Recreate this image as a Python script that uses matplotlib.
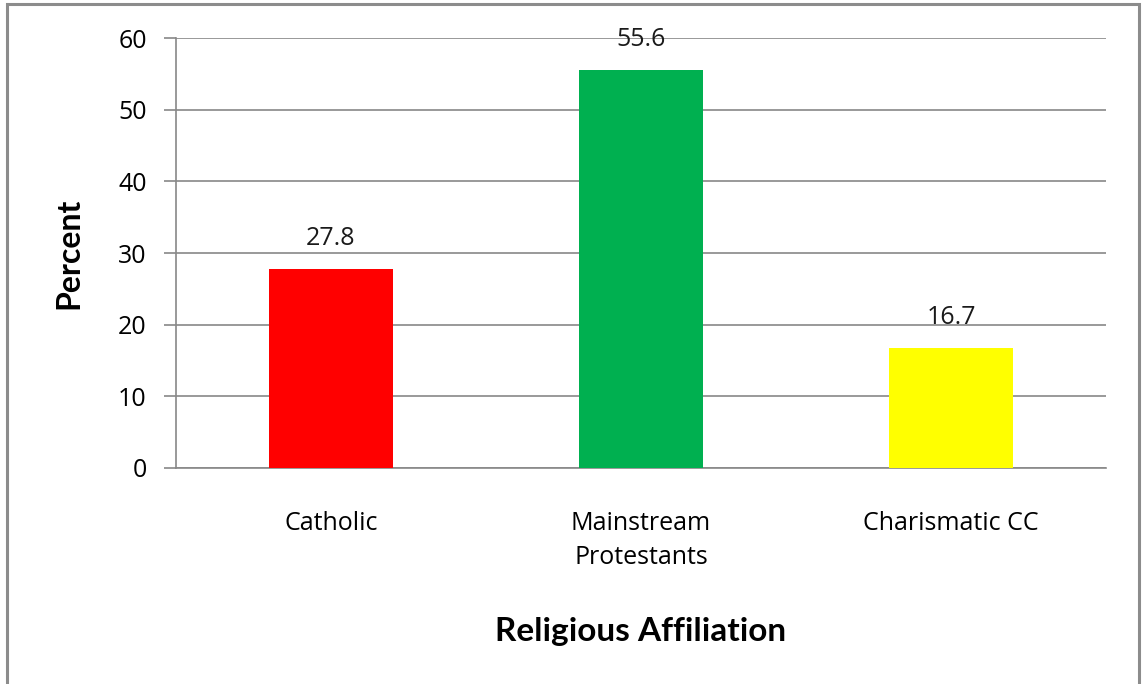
import matplotlib
matplotlib.use("Agg")
import matplotlib.pyplot as plt
from matplotlib.patches import Rectangle

# Dados
categorias = ["Catholic", "Mainstream\nProtestants", "Charismatic CC"]
percentuais = [27.8, 55.6, 16.7]
cores = ["#FF0000", "#00B050", "#FFFF00"]
yticks = [0, 10, 20, 30, 40, 50, 60]

plt.rcParams["font.family"] = ["Open Sans", "DejaVu Sans"]

fig = plt.figure(figsize=(11.44, 6.84), dpi=100)
ax = fig.add_axes([0.1538, 0.3158, 0.8130, 0.6286])

# Moldura em volta do gráfico
fig.patches.append(Rectangle((0.006, -0.05), 0.990, 1.044, transform=fig.transFigure,
                             fill=False, edgecolor="#8c8c8c", linewidth=2.2))

x = range(len(categorias))
ax.bar(x, percentuais, width=0.4, color=cores, zorder=3)

for xi, v in zip(x, percentuais):
    ax.annotate(f"{v}", (xi, v), xytext=(0, 13), textcoords="offset points",
                ha="center", va="bottom", fontsize=18, color="#1a1a1a", zorder=4)

ax.set_xlim(-0.5, 2.5)
ax.set_ylim(0, 60)
ax.set_yticks(yticks)
ax.set_xticks(list(x))
ax.set_xticklabels(categorias, fontsize=18, linespacing=1.47, va="top")
ax.tick_params(axis="x", length=0, pad=31)
ax.tick_params(axis="y", length=9, width=1.2, color="#888888", pad=12, labelsize=18)

ax.grid(axis="y", color="#888888", linewidth=1.2, zorder=0)
ax.set_axisbelow(True)

for lado in ["top", "right"]:
    ax.spines[lado].set_visible(False)
for lado in ["left", "bottom"]:
    ax.spines[lado].set_color("#888888")
    ax.spines[lado].set_linewidth(1.2)

ax.set_ylabel("Percent", fontsize=23, fontweight="bold", family=["Lato", "DejaVu Sans"], labelpad=25)
ax.set_xlabel("Religious Affiliation", fontsize=24, fontweight="bold", family=["Lato", "DejaVu Sans"], labelpad=34)

fig.savefig("out.png", dpi=100)
